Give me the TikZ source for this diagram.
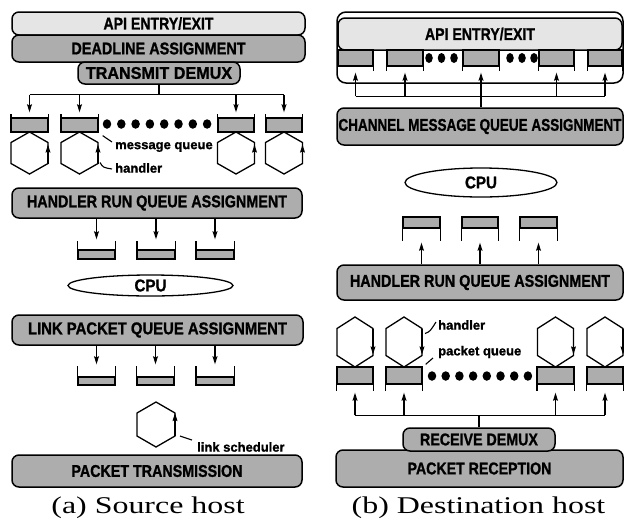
\documentclass[tikz,border=0pt]{standalone}
\usepackage{fontspec}
\usepackage{graphicx}
\setmainfont{Liberation Serif}
\newfontfamily\labfont{Liberation Sans}[BoldFeatures={FakeBold=1.2}]
\usetikzlibrary{arrows.meta,calc,shapes.geometric}

\definecolor{shadeA}{gray}{0.90}
\definecolor{shadeB}{gray}{0.68}

% condensed label text inside the stage boxes
\newcommand{\boxlabel}[2][0.84]{\scalebox{#1}[1]{#2}}

\tikzset{
  stage/.style={draw, line width=1.5pt, rounded corners=7pt, fill=shadeB, inner sep=0pt,
    font={\labfont\bfseries\fontsize{17}{17}\selectfont}},
  lightstage/.style={stage, fill=shadeA},
  plainstage/.style={stage, fill=white, rounded corners=9pt},
  cpu/.style={draw, ellipse, line width=1.3pt, fill=white, inner sep=0pt,
    font={\labfont\bfseries\fontsize{17}{17}\selectfont}},
  qcell/.style={draw, line width=1.3pt, fill=shadeB, inner sep=0pt},
  wall/.style={line width=1.3pt},
  link/.style={line width=1.2pt},
  arr/.style={link, -{Stealth[length=8pt,width=4.8pt,inset=1pt]}},
  thinlink/.style={line width=1.1pt},
  hexline/.style={line width=1.3pt, line join=miter},
  note/.style={font={\labfont\bfseries\fontsize{13}{13}\selectfont}, inner sep=0pt, anchor=west},
  caption/.style={font={\fontsize{24}{24}\selectfont}, inner sep=0pt},
  dot/.style={fill=black, ellipse, inner sep=0pt, minimum width=8.5pt, minimum height=9.5pt},
  dotsmall/.style={fill=black, ellipse, inner sep=0pt, minimum width=7.5pt, minimum height=10pt},
  pics/hexa/.style n args={3}{code={
    \coordinate (-top) at (0,-#2/2);
    \coordinate (-ur) at (#1/2,-#2/2+#3);
    \coordinate (-lr) at (#1/2,#2/2-#3);
    \coordinate (-bot) at (0,#2/2);
    \coordinate (-ll) at (-#1/2,#2/2-#3);
    \coordinate (-ul) at (-#1/2,-#2/2+#3);
    \draw[hexline] (-top) -- (-ur) -- (-lr) -- (-bot) -- (-ll) -- (-ul) -- cycle;
  }}
}

\begin{document}
\begin{tikzpicture}[x=1pt,y=-1pt]
\useasboundingbox (0,0) rectangle (624,523);
\fill[white] (0,0) rectangle (624,523);

% ================= (a) Source host =================
\node[lightstage, minimum width=293pt, minimum height=23pt] (apiL) at (158.5,23.5) {\boxlabel[0.83]{API ENTRY/EXIT}};
\node[stage, minimum width=293pt, minimum height=27pt] (deadL) at (158.5,48.5) {\boxlabel[0.85]{DEADLINE ASSIGNMENT}};
\node[stage, minimum width=162pt, minimum height=22pt] (tdemux) at (159,73) {\boxlabel[0.95]{TRANSMIT DEMUX}};

% message queues
\node[qcell, minimum width=36pt, minimum height=14pt] (lq1) at (29.5,125) {};
\node[qcell, minimum width=36pt, minimum height=14pt] (lq2) at (79.5,125) {};
\node[qcell, minimum width=36pt, minimum height=14pt] (lq3) at (236,125) {};
\node[qcell, minimum width=36pt, minimum height=14pt] (lq4) at (284,125) {};
\foreach \q in {lq1,lq2,lq3,lq4}
  \draw[wall] (\q.south west) -- ++(0,-19) (\q.south east) -- ++(0,-19);

\foreach \i in {0,...,7}
  \node[dot] (dL\i) at (107+\i*14.3,124) {};

% transmit demux fan-out
\coordinate (busL) at ($(tdemux.south)+(0,10)$);
\draw[link] (tdemux.south) -- (busL);
\draw[link] (lq1 |- busL) -- (lq4 |- busL);
\foreach \q in {lq1,lq2,lq3,lq4}
  \draw[arr, shorten >=5pt] (\q |- busL) -- (\q);

% message handlers
\pic (hL1) at (29.5,153) {hexa={37}{42}{10.5}};
\pic (hL2) at (79.5,153) {hexa={37}{42}{10.5}};
\pic (hL3) at (236,153) {hexa={37}{42}{10.5}};
\pic (hL4) at (284,153) {hexa={37}{42}{10.5}};
\foreach \h in {hL1,hL2,hL3,hL4}
  \draw[arr, shorten >=2pt] (\h-lr) -- (\h-ur);

\node[note] (nMsg) at (115,147) {message queue};
\draw[thinlink] ($(lq2.south east)+(4.5,3)$) -- ($(nMsg.west)+(-3,-5)$);
\node[note] (nHdl) at (115,168) {handler};
\draw[thinlink] ($(hL2-lr)+(2,-1)$) .. controls ($(hL2-lr)+(5,4)$) .. ($(nHdl.west)+(-3,1)$);

% handler run queues
\node[stage, minimum width=290pt, minimum height=30pt] (hrqaL) at (157,203) {\boxlabel[0.845]{HANDLER RUN QUEUE ASSIGNMENT}};
\node[qcell, minimum width=37pt, minimum height=9pt] (lm1) at (96.5,254.5) {};
\node[qcell, minimum width=37pt, minimum height=9pt] (lm2) at (156,254.5) {};
\node[qcell, minimum width=37pt, minimum height=9pt] (lm3) at (215,254.5) {};
\foreach \q in {lm1,lm2,lm3} {
  \draw[wall] (\q.south west) -- ++(0,-19) (\q.south east) -- ++(0,-19);
  \draw[arr, shorten >=10pt] (hrqaL.south -| \q) -- (\q);
}

\node[cpu, minimum width=165pt, minimum height=21pt] (cpuL) at (150.5,285.5) {\boxlabel[0.89]{CPU}};

% link packet queues
\node[stage, minimum width=291pt, minimum height=30pt] (lpqa) at (157.5,330) {\boxlabel[0.874]{LINK PACKET QUEUE ASSIGNMENT}};
\node[qcell, minimum width=37pt, minimum height=8pt] (lb1) at (96.5,381) {};
\node[qcell, minimum width=37pt, minimum height=8pt] (lb2) at (155.5,381) {};
\node[qcell, minimum width=37pt, minimum height=8pt] (lb3) at (215,381) {};
\foreach \q in {lb1,lb2,lb3} {
  \draw[wall] (\q.south west) -- ++(0,-20) (\q.south east) -- ++(0,-20);
  \draw[arr, shorten >=12pt] (lpqa.south -| \q) -- (\q);
}

% link scheduler
\pic (hLink) at (156,424.5) {hexa={38}{45}{11}};
\draw[arr] (hLink-lr) -- (hLink-ur);
\node[note] (nLink) at (197,447) {link scheduler};
\draw[thinlink] ($(hLink-lr)+(5,0)$) -- ($(nLink.west)+(-5,-7)$);

\node[stage, minimum width=290pt, minimum height=32pt] (ptx) at (157,471) {\boxlabel[0.84]{PACKET TRANSMISSION}};

\node[caption] (capA) at (148,508) {\scalebox{1.33}[1]{(a) Source host}};

% ================= (b) Destination host =================
\node[plainstage, minimum width=286pt, minimum height=71pt] (apiRout) at (480,47.5) {};
\node[lightstage, minimum width=284pt, minimum height=32pt] (apiR) at (480,34) {\boxlabel[0.83]{API ENTRY/EXIT}};

% channel message queues (opening downwards)
\node[qcell, minimum width=35pt, minimum height=16pt] (rt1) at (355.5,58) {};
\node[qcell, minimum width=36pt, minimum height=16pt] (rt2) at (405,58) {};
\node[qcell, minimum width=36pt, minimum height=16pt] (rt3) at (481,58) {};
\node[qcell, minimum width=35pt, minimum height=16pt] (rt4) at (556.5,58) {};
\node[qcell, minimum width=34pt, minimum height=16pt] (rt5) at (605,58) {};
\foreach \q in {rt1,rt2,rt3,rt4,rt5}
  \draw[wall] (\q.north west) -- ++(0,22) (\q.north east) -- ++(0,22);
\foreach \x [count=\i] in {429,441.5,454,510,522,534}
  \node[dotsmall] (dT\i) at (\x,58) {};

\node[stage, minimum width=286pt, minimum height=37pt] (cmqa) at (480,126.5) {\boxlabel[0.795]{CHANNEL MESSAGE QUEUE ASSIGNMENT}};
\coordinate (busR) at ($(cmqa.north)+(0,-11)$);
\draw[link] (rt1 |- busR) -- (rt5 |- busR);
\foreach \q in {rt1,rt2,rt4,rt5}
  \draw[arr, shorten >=6pt] (\q |- busR) -- (\q);
\draw[arr, shorten >=6pt] (cmqa.north -| rt3) -- (rt3);

\node[cpu, minimum width=152pt, minimum height=29pt] (cpuR) at (481,182.5) {\boxlabel[0.89]{CPU}};

% handler run queues (opening downwards)
\node[qcell, minimum width=37pt, minimum height=11pt] (rm1) at (421.5,222.5) {};
\node[qcell, minimum width=36pt, minimum height=11pt] (rm2) at (480,222.5) {};
\node[qcell, minimum width=37pt, minimum height=11pt] (rm3) at (538.5,222.5) {};
\node[stage, minimum width=286pt, minimum height=35pt] (hrqaR) at (480,282.5) {\boxlabel[0.845]{HANDLER RUN QUEUE ASSIGNMENT}};
\foreach \q in {rm1,rm2,rm3} {
  \draw[wall] (\q.north west) -- ++(0,25) (\q.north east) -- ++(0,25);
  \draw[arr, shorten >=14pt] (hrqaR.north -| \q) -- (\q);
}

% packet handlers and packet queues
\pic (hR1) at (355,342) {hexa={36}{50}{11.5}};
\pic (hR2) at (404,342) {hexa={36}{50}{11.5}};
\pic (hR3) at (555.5,342) {hexa={36}{50}{11.5}};
\pic (hR4) at (605,342) {hexa={36}{50}{11.5}};
\foreach \h in {hR1,hR2,hR3,hR4}
  \draw[arr, shorten >=1pt] (\h-ur) -- (\h-lr);

\node[qcell, minimum width=36pt, minimum height=17pt] (rb1) at (355,375.5) {};
\node[qcell, minimum width=36pt, minimum height=17pt] (rb2) at (404,375.5) {};
\node[qcell, minimum width=36pt, minimum height=17pt] (rb3) at (555.5,375.5) {};
\node[qcell, minimum width=36pt, minimum height=17pt] (rb4) at (605,375.5) {};
\foreach \q in {rb1,rb2,rb3,rb4}
  \draw[wall] (\q.north west) -- ++(0,25) (\q.north east) -- ++(0,25);
\foreach \i in {0,...,7}
  \node[dot] (dR\i) at (432+\i*13.7,376) {};

\node[note] (nHdlR) at (438,325) {handler};
\draw[thinlink] ($(hR2-ur)+(3,5)$) .. controls ($(hR2-ur)+(8,3)$) .. ($(nHdlR.west)+(-2,-3)$);
\node[note] (nPkt) at (438,352) {packet queue};
\draw[thinlink] ($(rb2.north east)+(3,-2)$) -- ($(nPkt.west)+(-5,6)$);

% receive demux fan-out
\node[stage, minimum width=287pt, minimum height=37pt] (prx) at (479.5,468.5) {\boxlabel[0.834]{PACKET RECEPTION}};
\node[stage, minimum width=152pt, minimum height=23pt] (rdemux) at (479,439.5) {\boxlabel[0.838]{RECEIVE DEMUX}};
\coordinate (busB) at ($(rdemux.north)+(0,-12)$);
\draw[link] (rdemux.north) -- (busB);
\draw[link] (rb1 |- busB) -- (rb4 |- busB);
\foreach \q in {rb1,rb2,rb3,rb4}
  \draw[arr, shorten >=8pt] (\q |- busB) -- (\q);

\node[caption] (capB) at (478.5,508) {\scalebox{1.33}[1]{(b) Destination host}};
\end{tikzpicture}
\end{document}
